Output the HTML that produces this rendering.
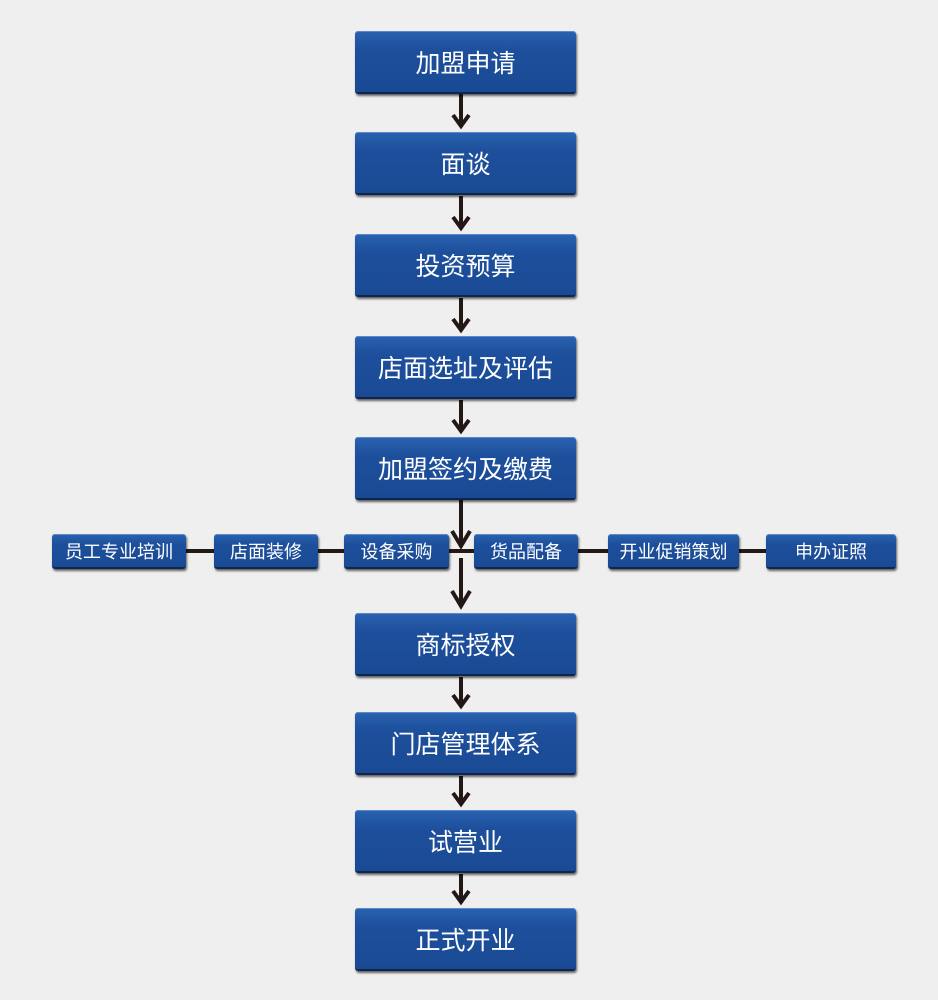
<!DOCTYPE html>
<html><head><meta charset="utf-8"><style>
body{margin:0;width:938px;height:1000px;background:#efefef;position:relative;overflow:hidden;font-family:"Liberation Sans","Noto Sans CJK SC",sans-serif}
.b{position:absolute;background:linear-gradient(#2a63b0,#1d4f9c 30%,#1a4a94);border-radius:3px;box-shadow:1px 2px 2px rgba(0,0,0,.6),inset 0 1px 0 #5a8acc;color:#fff;display:flex;align-items:center;justify-content:center;font-size:25px;border-bottom:2px solid #0d2650}
.m{left:355px;width:221px;height:61px}
.s{height:33px;top:534px;font-size:18px}
svg{position:absolute;left:0;top:0}
</style></head><body>
<svg width="938" height="1000">
<g stroke="#231815" stroke-width="4" fill="none">
<line x1="461" y1="94" x2="461" y2="127"/><polyline points="453,115 461,126 469,115"/>
<line x1="461" y1="196" x2="461" y2="229"/><polyline points="453,217 461,228 469,217"/>
<line x1="461" y1="298" x2="461" y2="331"/><polyline points="453,319 461,330 469,319"/>
<line x1="461" y1="400" x2="461" y2="432"/><polyline points="453,420 461,431 469,420"/>
<line x1="461" y1="500" x2="461" y2="547"/><polyline points="452,531 461,546 470,531"/>
<line x1="461" y1="558" x2="461" y2="607"/><polyline points="452,591 461,606 470,591"/>
<line x1="461" y1="677" x2="461" y2="707"/><polyline points="453,695 461,706 469,695"/>
<line x1="461" y1="776" x2="461" y2="805"/><polyline points="453,793 461,804 469,793"/>
<line x1="461" y1="874" x2="461" y2="903"/><polyline points="453,891 461,902 469,891"/>
<line x1="186" y1="551" x2="766" y2="551"/>
</g></svg>
<div class="b m" style="top:31px">加盟申请</div>
<div class="b m" style="top:132px">面谈</div>
<div class="b m" style="top:234px">投资预算</div>
<div class="b m" style="top:336px">店面选址及评估</div>
<div class="b m" style="top:437px">加盟签约及缴费</div>
<div class="b s" style="left:52px;width:134px">员工专业培训</div>
<div class="b s" style="left:214px;width:104px">店面装修</div>
<div class="b s" style="left:344px;width:105px">设备采购</div>
<div class="b s" style="left:474px;width:104px">货品配备</div>
<div class="b s" style="left:608px;width:131px">开业促销策划</div>
<div class="b s" style="left:766px;width:130px">申办证照</div>
<div class="b m" style="top:613px">商标授权</div>
<div class="b m" style="top:712px">门店管理体系</div>
<div class="b m" style="top:810px">试营业</div>
<div class="b m" style="top:908px">正式开业</div>
</body></html>
